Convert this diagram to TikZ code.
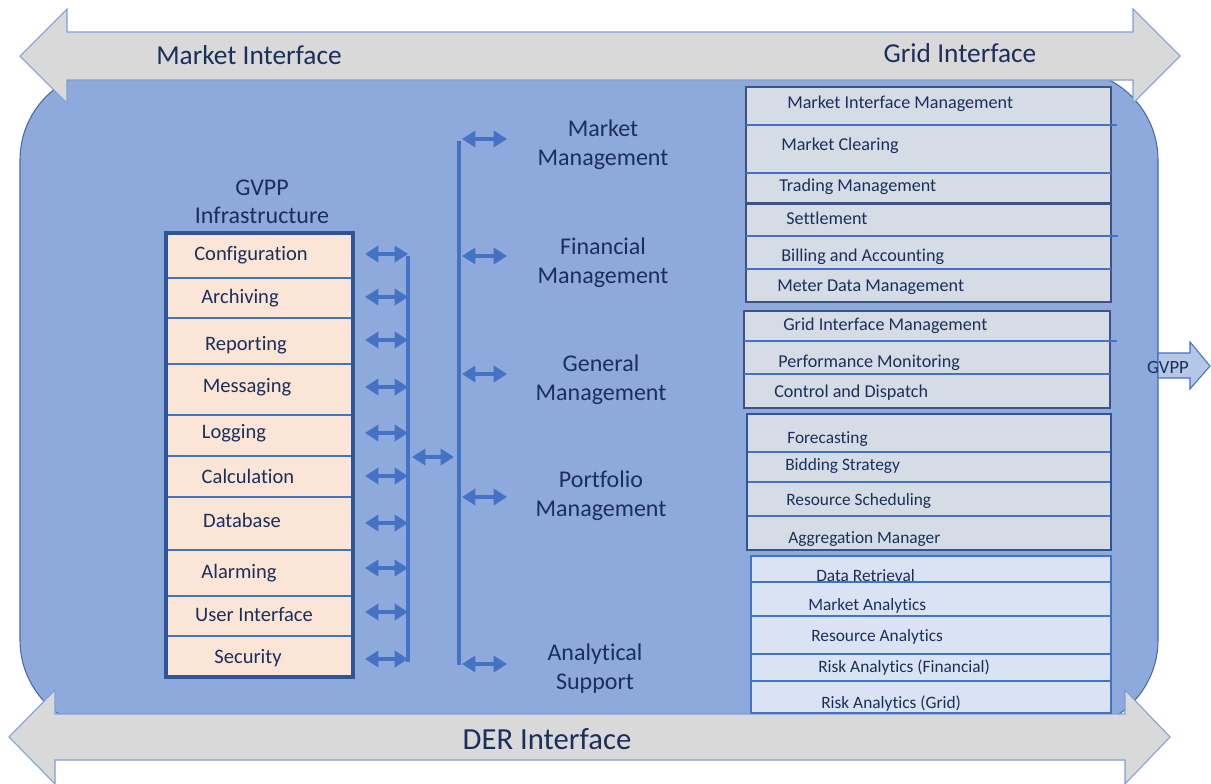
\documentclass[tikz,border=0pt]{standalone}
\usepackage{fontspec}
\setmainfont[Ligatures=NoCommon]{Carlito}
\usetikzlibrary{arrows.meta}
\definecolor{navy}{HTML}{1B2F5C}
\definecolor{mainfill}{HTML}{8EA9DB}
\definecolor{mainline}{HTML}{4A6BAA}
\definecolor{grayfill}{HTML}{D9D9D9}
\definecolor{grayline}{HTML}{7F9FD6}
\definecolor{peach}{HTML}{FBE5D6}
\definecolor{darkblue}{HTML}{2F5597}
\definecolor{accent}{HTML}{4472C4}
\definecolor{slate}{HTML}{D6DCE5}
\definecolor{pale}{HTML}{DAE3F3}
\definecolor{slateline}{HTML}{3E5383}
\definecolor{gvppfill}{HTML}{B4C7E7}
\tikzset{
  bigtxt/.style={font=\fontsize{20.5}{24}\selectfont, text=navy, inner sep=0pt},
  dertxt/.style={font=\fontsize{23}{27}\selectfont, text=navy, inner sep=0pt},
  midtxt/.style={font=\fontsize{18}{21.75}\selectfont, text=navy, align=center, inner sep=0pt, yshift=-1.5pt},
  rowtxt/.style={font=\fontsize{15.4}{18}\selectfont, text=navy, inner sep=0pt, text height=0.7em, text depth=0.2em, yshift=-2.2pt},
  boxtxt/.style={font=\fontsize{13.6}{16}\selectfont, text=navy, anchor=west, inner sep=0pt, text height=0.7em, text depth=0.2em, yshift=-1.8pt},
  smalltxt/.style={font=\fontsize{13}{15}\selectfont, text=navy, anchor=west, inner sep=0pt, text height=0.7em, text depth=0.2em, yshift=-1.8pt},
  gvpptxt/.style={font=\fontsize{14}{16}\selectfont, text=navy, inner sep=0pt},
  busarr/.style={draw=accent, line width=2.6pt, {Triangle[length=10pt,width=12pt]}-{Triangle[length=10pt,width=12pt]}},
  busline/.style={draw=accent, line width=2.4pt},
  bigarrow/.style={fill=grayfill, draw=grayline, line width=0.8pt, line join=miter},
  grpbox/.style={fill=slate, draw=slateline, line width=1.1pt},
  sepline/.style={draw=accent, line width=0.8pt},
}
\begin{document}
\begin{tikzpicture}[x=0.75pt,y=-0.75pt]
\useasboundingbox (0,0) rectangle (1211,783);

% main rounded container
\draw[fill=mainfill, draw=mainline, line width=0.8pt, rounded corners=67.5pt] (20,70) rectangle (1158,730);

% top double arrow
\draw[bigarrow] (20,56) -- (67,9) -- (67,32) -- (1133,32) -- (1133,9) -- (1180,56) -- (1133,103) -- (1133,80) -- (67,80) -- (67,103) -- cycle;
\node[bigtxt] (mkt) at (249,55) {Market Interface};
\node[bigtxt] (grid) at (960,53) {Grid Interface};

% bottom double arrow
\draw[bigarrow] (9,737) -- (55,690) -- (55,714) -- (1125,714) -- (1125,690) -- (1170,737) -- (1125,784) -- (1125,760) -- (55,760) -- (55,784) -- cycle;
\node[dertxt] (der) at (547,739) {DER Interface};

% GVPP arrow
\draw[fill=gvppfill, draw=accent, line width=0.8pt] (1158,353) -- (1190,353) -- (1190,342) -- (1210,366) -- (1190,389) -- (1190,378) -- (1158,378) -- cycle;
\node[gvpptxt] (gvpp) at (1168,367) {GVPP};

% GVPP infrastructure column
\node[midtxt, font=\fontsize{18}{21}\selectfont] (infra) at (262,200) {GVPP\\Infrastructure};
\fill[peach] (166,233) rectangle (353,677);
\foreach \y in {278,318,364,415,456,497,550,596,636} {
  \draw[draw=accent, line width=2.2pt] (166,\y) -- (355,\y);
}
\draw[draw=darkblue, line width=2.6pt] (166,233) rectangle (353,677);
\node[rowtxt] (r1) at (251,254) {Configuration};
\node[rowtxt] (r2) at (240,297) {Archiving};
\node[rowtxt] (r3) at (246,344) {Reporting};
\node[rowtxt] (r4) at (247,386) {Messaging};
\node[rowtxt] (r5) at (234,432) {Logging};
\node[rowtxt] (r6) at (248,477) {Calculation};
\node[rowtxt] (r7) at (242,521) {Database};
\node[rowtxt] (r8) at (239,572) {Alarming};
\node[rowtxt] (r9) at (254,615) {User Interface};
\node[rowtxt] (r10) at (248,657) {Security};

% bus 1 with arrows
\coordinate (b1top) at (408,256);
\coordinate (b1bot) at (408,662);
\draw[busline] (b1top) -- (b1bot);
\foreach \n/\y in {1/254,2/297,3/340,4/387,5/433,6/476,7/523,8/568,9/612,10/659} {
  \coordinate (la\n) at (365,\y);
  \coordinate (lb\n) at (408,\y);
  \draw[busarr] (la\n) -- (lb\n);
}
% link between buses
\coordinate (m1) at (412,457);
\coordinate (m2) at (454,457);
\draw[busarr] (m1) -- (m2);

% bus 2
\coordinate (b2top) at (459,141);
\coordinate (b2bot) at (459,665);
\draw[busline] (b2top) -- (b2bot);
\foreach \n/\y in {1/139,2/256,3/374,4/497,5/664} {
  \coordinate (ra\n) at (462,\y);
  \coordinate (rb\n) at (507,\y);
  \draw[busarr] (ra\n) -- (rb\n);
}

% middle labels
\node[midtxt] (mm) at (603,142.5) {Market\\Management};
\node[midtxt] (fm) at (603,260.5) {Financial\\Management};
\node[midtxt] (gm) at (601,377.5) {General\\Management};
\node[midtxt] (pm) at (601,494) {Portfolio\\Management};
\node[midtxt] (as) at (595,666.5) {Analytical\\Support};

% right group 1
\draw[grpbox] (746,87) rectangle (1111,203);
\draw[sepline] (746,125) -- (1117,125);
\draw[sepline] (746,173) -- (1111,173);
\node[boxtxt] (g1a) at (787,103) {Market Interface Management};
\node[boxtxt] (g1b) at (781,145) {Market Clearing};
\node[boxtxt] (g1c) at (779,186) {Trading Management};

% right group 2
\draw[grpbox] (746,204) rectangle (1111,302);
\draw[sepline] (746,236) -- (1118,236);
\draw[sepline] (746,269) -- (1111,269);
\node[boxtxt] (g2a) at (786,219) {Settlement};
\node[boxtxt] (g2b) at (781,256) {Billing and Accounting};
\node[boxtxt] (g2c) at (777,286) {Meter Data Management};

% right group 3
\draw[grpbox] (744,311) rectangle (1110,408);
\draw[sepline] (744,341) -- (1117,341);
\draw[sepline] (744,374) -- (1110,374);
\node[boxtxt] (g3a) at (783,325) {Grid Interface Management};
\node[boxtxt] (g3b) at (778,362) {Performance Monitoring};
\node[boxtxt] (g3c) at (774,392) {Control and Dispatch};

% right group 4
\fill[slate] (747,414) rectangle (1111,550);
\foreach \y in {452,482,516} {
  \draw[draw=accent, line width=1.5pt] (747,\y) -- (1111,\y);
}
\draw[draw=darkblue, line width=2pt] (747,414) rectangle (1111,550);
\node[smalltxt] (g4a) at (787,438) {Forecasting};
\node[smalltxt] (g4b) at (785,465) {Bidding Strategy};
\node[smalltxt] (g4c) at (786,500) {Resource Scheduling};
\node[smalltxt] (g4d) at (788,538) {Aggregation Manager};

% right group 5
\draw[fill=pale, draw=accent, line width=1.2pt] (751,556) rectangle (1111,713);
\foreach \y in {582,616,654,681} {
  \draw[sepline, line width=1pt] (751,\y) -- (1111,\y);
}
\node[smalltxt] (g5a) at (816,576) {Data Retrieval};
\node[smalltxt] (g5b) at (808,605) {Market Analytics};
\node[smalltxt] (g5c) at (811,636) {Resource Analytics};
\node[smalltxt] (g5d) at (818,667) {Risk Analytics (Financial)};
\node[smalltxt] (g5e) at (821,703) {Risk Analytics (Grid)};
\end{tikzpicture}
\end{document}
